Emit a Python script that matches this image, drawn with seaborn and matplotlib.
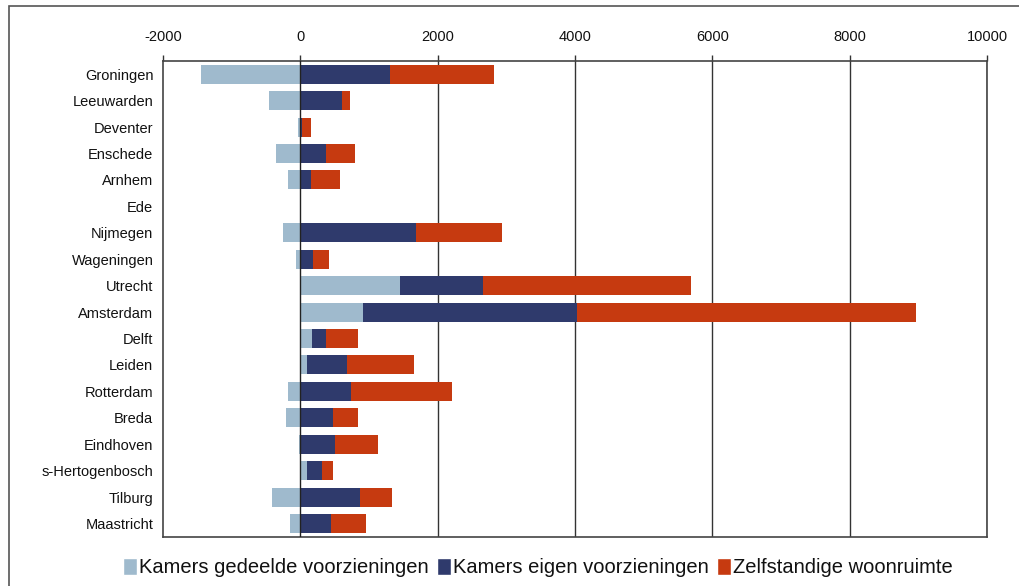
import numpy as np
import pandas as pd
import seaborn as sns
from matplotlib import pyplot as plt
from matplotlib.patches import Patch, Rectangle

# data
steden = ['Groningen', 'Leeuwarden', 'Deventer', 'Enschede', 'Arnhem', 'Ede',
          'Nijmegen', 'Wageningen', 'Utrecht', 'Amsterdam', 'Delft', 'Leiden',
          'Rotterdam', 'Breda', 'Eindhoven', 's-Hertogenbosch', 'Tilburg', 'Maastricht']
gedeeld = [-1450, -450, -30, -350, -175, 0, -260, -60, 1450, 910, 170, 90,
           -175, -210, -20, 90, -410, -150]
eigen = [1310, 610, 20, 380, 150, 0, 1690, 180, 1210, 3120, 200, 590,
         740, 480, 500, 220, 870, 440]
zelfstandig = [1510, 110, 140, 410, 430, 0, 1250, 240, 3030, 4930, 470, 980,
               1470, 360, 630, 160, 470, 510]

labels = ['Kamers gedeelde voorzieningen', 'Kamers eigen voorzieningen', 'Zelfstandige woonruimte']
kleuren = ['#9fbacd', '#2f3a6c', '#c63a10']

sns.set_theme(style='white')
plt.rcParams['font.family'] = ['Liberation Sans', 'DejaVu Sans']
plt.rcParams['axes.unicode_minus'] = False
plt.rcParams['text.color'] = '#111111'
plt.rcParams['xtick.color'] = '#111111'
plt.rcParams['ytick.color'] = '#111111'

df = pd.DataFrame({'stad': steden, 'gedeeld': gedeeld, 'eigen': eigen, 'zelf': zelfstandig})
pos = df['gedeeld'].clip(lower=0)
df['tot_eigen'] = pos + df['eigen']
df['tot_zelf'] = df['tot_eigen'] + df['zelf']

fig = plt.figure(figsize=(10.19, 5.86), dpi=100)
ax = fig.add_axes([0.16, 0.084, 0.8086, 0.812])

# gestapeld: achterste laag eerst
for col, kl in [('tot_zelf', kleuren[2]), ('tot_eigen', kleuren[1]), ('gedeeld', kleuren[0])]:
    sns.barplot(data=df, x=col, y='stad', order=steden, color=kl, width=0.72,
                saturation=1, orient='h', ax=ax, zorder=3, linewidth=0, edgecolor='none')

ax.set_xlim(-2000, 10000)
ax.set_xticks(range(-2000, 10001, 2000))
ax.xaxis.tick_top()
ax.tick_params(axis='x', length=4, width=1, color='#333333', labelsize=10.5, pad=8, top=True)
ax.tick_params(axis='y', length=0, labelsize=10.5, pad=7)
ax.set_xlabel('')
ax.set_ylabel('')
for x in range(2000, 10001, 2000):
    ax.axvline(x, color='#333333', lw=1, zorder=1)
# nul-as boven de balken
ax.axvline(0, color='#222222', lw=1, zorder=4)
for s in ax.spines.values():
    s.set_color('#444444')
    s.set_linewidth(1.2)

handles = [Patch(facecolor=k) for k in kleuren]
fig.legend(handles, labels, loc='center', bbox_to_anchor=(0.528, 0.031), ncol=3,
           frameon=False, fontsize=14.5,
           handlelength=0.7, handleheight=0.9, handletextpad=0.1, columnspacing=0.4)

# kader rond de figuur
fig.patches.append(Rectangle((0.009, -0.05), 1.1, 1.04, transform=fig.transFigure,
                             fill=False, edgecolor='#555555', lw=1.2))

fig.savefig('out.png', dpi=100)
